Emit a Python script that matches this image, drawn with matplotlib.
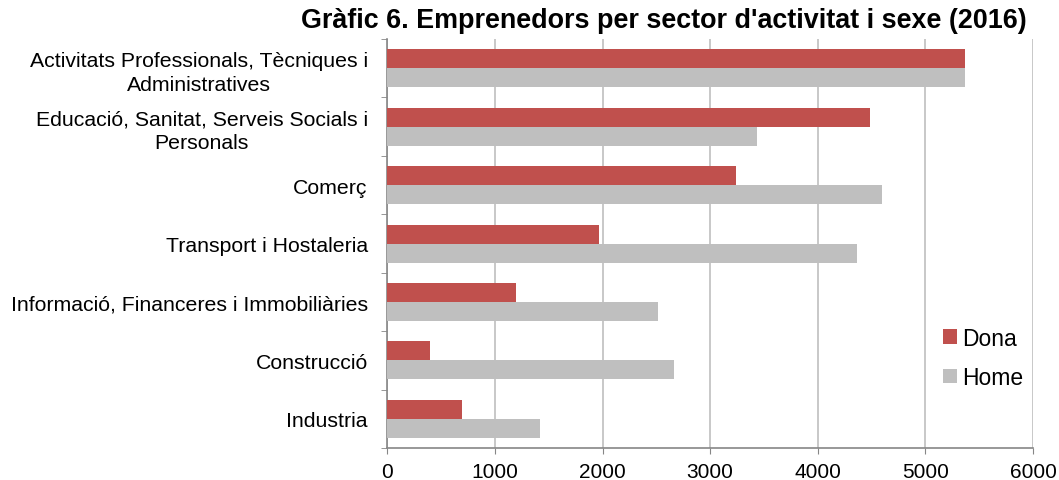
import numpy as np
import matplotlib.pyplot as plt
from matplotlib.ticker import FixedLocator

plt.rcParams['font.family'] = ['Liberation Sans', 'DejaVu Sans']

sectors = [
    "Activitats Professionals, Tècniques i\nAdministratives",
    "Educació, Sanitat, Serveis Socials i\nPersonals",
    "Comerç",
    "Transport i Hostaleria",
    "Informació, Financeres i Immobiliàries",
    "Construcció",
    "Industria",
]
dona = [5370, 4490, 3240, 1965, 1195, 395, 690]
home = [5370, 3440, 4595, 4365, 2515, 2665, 1415]

red = "#C0504D"
grey = "#BFBFBF"

fig = plt.figure(figsize=(10.59, 4.81), dpi=100)
ax = fig.add_axes([0.3657, 0.0665, 0.6097, 0.8503])

y = np.arange(len(sectors))[::-1]
h = 0.325
ax.barh(y + h / 2, dona, height=h, color=red, label="Dona", zorder=3)
ax.barh(y - h / 2, home, height=h, color=grey, label="Home", zorder=3)

ax.set_xlim(0, 6000)
ax.set_ylim(-0.5, len(sectors) - 0.5)
ax.set_xticks(range(0, 6001, 1000))
ax.set_yticks(y)
ax.set_yticklabels(sectors, multialignment="center", fontsize=15.3, linespacing=1.3)
ax.tick_params(axis="y", length=0, pad=14)
ax.yaxis.set_minor_locator(FixedLocator(np.arange(-0.5, len(sectors), 1)))
ax.tick_params(axis="y", which="minor", length=4, color="#868686", direction="out")
ax.tick_params(axis="x", labelsize=15, length=4, color="#868686", direction="out", pad=6)

ax.grid(axis="x", color="#BFBFBF", linewidth=1.2, zorder=0)
for s in ["top", "right"]:
    ax.spines[s].set_visible(False)
for s in ["left", "bottom"]:
    ax.spines[s].set_color("#868686")
    ax.spines[s].set_linewidth(1.2)

ax.legend(loc="center left", bbox_to_anchor=(0.8905, 0.2536), bbox_transform=fig.transFigure,
          frameon=False, fontsize=16.5, handlelength=0.6, handleheight=0.6,
          handletextpad=0.25, labelspacing=0.72, borderpad=0, borderaxespad=0)

fig.text(0.627, 0.957, "Gràfic 6. Emprenedors per sector d'activitat i sexe (2016)",
         ha="center", va="center", fontsize=19.4, fontweight="bold")

fig.savefig("out.png", dpi=100)
